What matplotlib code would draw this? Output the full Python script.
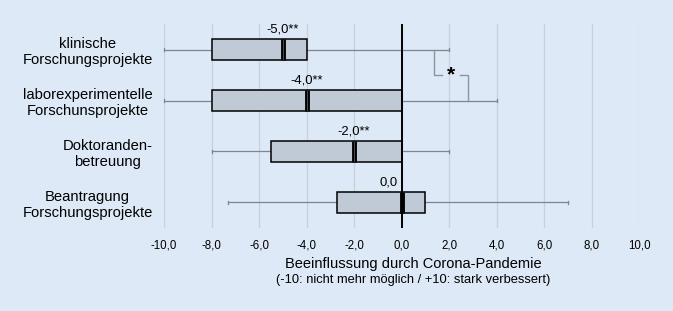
import numpy as np
import matplotlib
matplotlib.use("Agg")
from matplotlib import pyplot as plt

plt.rcParams['font.family'] = ['Liberation Sans', 'DejaVu Sans']

# data
categories = ["klinische\nForschungsprojekte",
              "laborexperimentelle\nForschunsprojekte",
              "Doktoranden-\nbetreuung",
              "Beantragung\nForschungsprojekte"]
whisker_lo = [-10.0, -10.0, -8.0, -7.3]
q1 = [-8.0, -8.0, -5.5, -2.7]
median = [-5.0, -4.0, -2.0, 0.0]
q3 = [-4.0, 0.0, 0.0, 1.0]
whisker_hi = [2.0, 4.0, 2.0, 7.0]
median_labels = ["-5,0**", "-4,0**", "-2,0**", "0,0"]
xticks = np.arange(-10, 11, 2)

bg = "#dde9f6"
box_col = "#c0cad6"
grey = "#7d858e"

fig = plt.figure(figsize=(6.73, 3.11), dpi=100, facecolor=bg)
ax = fig.add_axes([0.2437, 0.2669, 0.7058, 0.6559], facecolor=bg)

ax.set_xlim(-10, 10)
ax.set_ylim(3.5, -0.5)

for x in xticks:
    ax.axvline(x, color="#c6d1dd", lw=0.9, zorder=0)

h = 0.42
for i in range(len(categories)):
    # whiskers
    ax.plot([whisker_lo[i], q1[i]], [i, i], color=grey, lw=0.9, zorder=1)
    ax.plot([q3[i], whisker_hi[i]], [i, i], color=grey, lw=0.9, zorder=1)
    for w in (whisker_lo[i], whisker_hi[i]):
        ax.plot([w, w], [i - 0.03, i + 0.03], color=grey, lw=0.9, zorder=1,
                clip_on=False)
    # box
    ax.add_patch(plt.Rectangle((q1[i], i - h / 2), q3[i] - q1[i], h,
                               facecolor=box_col, edgecolor="black", lw=1.1, zorder=2))
    # median
    ax.plot([median[i], median[i]], [i - h / 2, i + h / 2], color="black",
            lw=3.5, solid_capstyle="butt", zorder=4)
    if i < 3:
        ax.plot([median[i], median[i]], [i - h / 2 + 0.02, i + h / 2 - 0.02],
                color="#555b63", lw=0.6, zorder=5)
    dx = -0.55 if median_labels[i] == "0,0" else 0.0
    ax.text(median[i] + dx, i - h / 2 - 0.06, median_labels[i], ha="center",
            va="bottom", fontsize=9.4, zorder=6)

ax.axvline(0, color="black", lw=1.4, zorder=3)

# significance bracket
ax.plot([1.35, 1.35, 1.7], [0, 0.5, 0.5], color="#8c949d", lw=1.0, zorder=3)
ax.plot([2.45, 2.8, 2.8], [0.5, 0.5, 1.0], color="#8c949d", lw=1.0, zorder=3)
ax.text(2.07, 0.5, "*", ha="center", va="center", fontsize=15,
        fontweight="bold", zorder=6)

ax.set_yticks(range(len(categories)))
ax.set_yticklabels(categories, fontsize=10.6, multialignment="center")
ax.set_xticks(xticks)
ax.set_xticklabels([f"{x:.1f}".replace(".", ",") for x in xticks], fontsize=8.3)
ax.tick_params(axis="both", length=0)
ax.tick_params(axis="x", pad=8)
ax.tick_params(axis="y", pad=8)
for s in ax.spines.values():
    s.set_visible(False)

fig.text(0.614, 1 - 264 / 311, "Beeinflussung durch Corona-Pandemie",
         ha="center", va="center", fontsize=10.5)
fig.text(0.614, 1 - 280 / 311, "(-10: nicht mehr möglich / +10: stark verbessert)",
         ha="center", va="center", fontsize=9.3)

fig.savefig("out.png", dpi=100, facecolor=bg)
